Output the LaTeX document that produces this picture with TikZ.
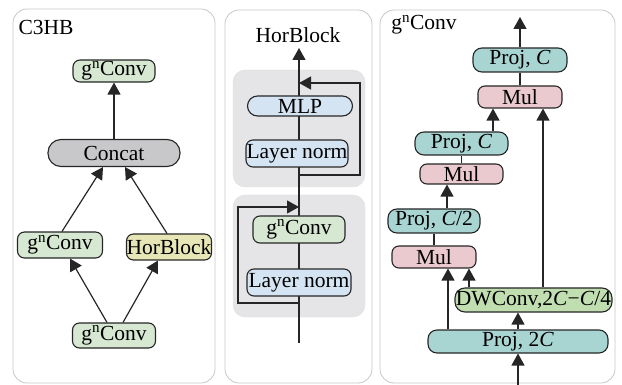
\documentclass[tikz,border=0pt]{standalone}
\usepackage{fontspec}
\setmainfont{Liberation Serif}
\usepackage{xcolor}
\usepackage{tikz}
\usetikzlibrary{arrows.meta,positioning,calc}

\definecolor{convgreen}{RGB}{214,232,210}
\definecolor{catgray}{RGB}{200,200,202}
\definecolor{horyellow}{RGB}{230,230,182}
\definecolor{normblue}{RGB}{212,228,242}
\definecolor{blockgray}{RGB}{229,229,232}
\definecolor{projteal}{RGB}{168,212,210}
\definecolor{mulpink}{RGB}{234,202,207}
\definecolor{dwgreen}{RGB}{192,222,176}

\begin{document}
\begin{tikzpicture}[x=1pt, y=-1pt, >={Triangle[length=12pt,width=13pt]},
  box/.style={draw=black!85, line width=1.1pt, rounded corners=7pt,
    inner sep=0pt, font=\fontsize{21.5}{23}\selectfont},
  conv/.style={box, fill=convgreen},
  norm/.style={box, fill=normblue},
  proj/.style={box, fill=projteal, rounded corners=9pt},
  mul/.style={box, fill=mulpink},
  grp/.style={draw=black!12, fill=blockgray, rounded corners=12pt, inner sep=0pt},
  panel/.style={draw=black!22, line width=0.8pt, rounded corners=14pt},
  title/.style={inner sep=0pt, font=\fontsize{21.5}{23}\selectfont},
  link/.style={draw=black!85, line width=1.2pt}
]
\useasboundingbox (0,0) rectangle (622,385);

% panels
\draw[panel] (13,9) rectangle (215,383);
\draw[panel] (225,10) rectangle (372,383);
\draw[panel] (380,10) rectangle (615,383);

% C3HB
\node[title] (t1) at (46,27) {C3HB};
\node[conv, minimum width=82pt, minimum height=22pt] (gT) at (114,71) {g\textsuperscript{n}Conv};
\node[box, fill=catgray, rounded corners=13pt, minimum width=132pt, minimum height=27pt] (cat) at (114,153) {Concat};
\node[conv, minimum width=85pt, minimum height=26pt] (gL) at (60,245) {g\textsuperscript{n}Conv};
\node[box, fill=horyellow, minimum width=85pt, minimum height=26pt] (hb) at (169,247) {HorBlock};
\node[conv, minimum width=83pt, minimum height=25pt] (gB) at (114,335.5) {g\textsuperscript{n}Conv};

\draw[link, ->] (cat) -- (gT);
\draw[link, ->] ([xshift=2pt]gL.north) -- ([xshift=-11pt]cat.south);
\draw[link, ->] ([xshift=-2pt]hb.north) -- ([xshift=11pt]cat.south);
\draw[link, ->] ([xshift=-7pt]gB.north) -- ([xshift=10pt]gL.south);
\draw[link, ->] ([xshift=9pt]gB.north) -- ([xshift=-11pt]hb.south);

% HorBlock
\node[title] (t2) at (298,35) {HorBlock};
\node[grp, minimum width=132pt, minimum height=117pt] (blkU) at (299,128.5) {};
\node[grp, minimum width=132pt, minimum height=122pt] (blkL) at (299,256) {};
\coordinate (in2) at (299,343);
\coordinate (out2) at (299,48);
\coordinate (jU) at (299,175);
\coordinate (eU) at (299,83);
\coordinate (jL) at (299,303);
\coordinate (eL) at (299,207);
\draw[link, ->] (in2) -- (out2);
\draw[link, ->] (jU) -- ++(61,0) |- (eU);
\draw[link, ->] (jL) -- ++(-61,0) |- (eL);
\node[norm, rounded corners=10pt, minimum width=105pt, minimum height=20pt] (mlp) at (300,106) {MLP};
\node[norm, minimum width=102pt, minimum height=27pt] (lnU) at (297,153.5) {Layer norm};
\node[conv, minimum width=92pt, minimum height=27pt] (gM) at (299,229.5) {g\textsuperscript{n}Conv};
\node[norm, minimum width=104pt, minimum height=27pt] (lnL) at (299,282.5) {Layer norm};

% gnConv
\node[title] (t3) at (424,25) {g\textsuperscript{n}Conv};
\node[proj, minimum width=94pt, minimum height=24pt] (pT) at (520,60) {Proj, \textit{C}};
\node[mul, minimum width=84pt, minimum height=22pt] (mT) at (520,97) {Mul};
\node[proj, minimum width=93pt, minimum height=23pt] (pC) at (461.5,143.5) {Proj, \textit{C}};
\node[mul, minimum width=83pt, minimum height=20pt] (mM) at (461.5,174) {Mul};
\node[proj, minimum width=92pt, minimum height=24pt] (pH) at (434,221) {Proj, \textit{C}/2};
\node[mul, minimum width=84pt, minimum height=22pt] (mB) at (434,257) {Mul};
\node[box, fill=dwgreen, rounded corners=10pt, minimum width=157pt, minimum height=24pt] (dw) at (533.5,300) {DWConv,2\textit{C}−\textit{C}/4};
\node[proj, minimum width=180pt, minimum height=23pt] (p2) at (518,341.5) {Proj, 2\textit{C}};
\coordinate (in3) at (518,385);
\coordinate (out3) at (520,17);

\draw[link, ->] (pT) -- (out3);
\draw[link] (mT) -- (pT);
\draw[link, ->] ([xshift=31.5pt]pC.north) -- ([xshift=31.5pt]pC.north |- mT.south);
\draw[link, ->] ([xshift=9.5pt]dw.north) -- ([xshift=9.5pt]dw.north |- mT.south);
\draw[link] (mM) -- (pC);
\draw[link, ->] ([xshift=13pt]pH.north) -- ([xshift=13pt]pH.north |- mM.south);
\draw[link] (mB) -- (pH);
\draw[link, ->] ([xshift=-70pt]p2.north) -- ([xshift=-70pt]p2.north |- mB.south);
\draw[link, ->] ([xshift=-64.5pt]dw.north) -- ([xshift=-64.5pt]dw.north |- mB.south);
\draw[link, ->] (p2.north) -- (p2.north |- dw.south);
\draw[link, ->] (in3) -- (p2);
\end{tikzpicture}
\end{document}
